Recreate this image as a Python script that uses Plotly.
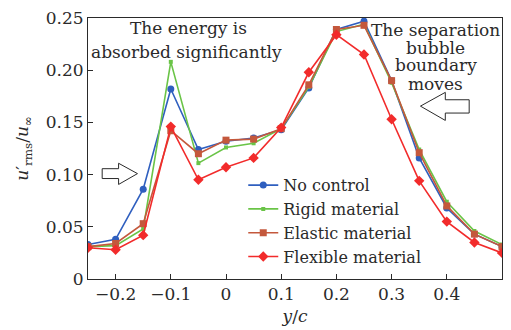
import plotly.graph_objects as go

# Spanwise position y/c
y_c = [-0.25, -0.2, -0.15, -0.1, -0.05, 0.0, 0.05, 0.1, 0.15, 0.2, 0.25, 0.3, 0.35, 0.4, 0.45, 0.5]

# Streamwise velocity fluctuation u'_rms / u_inf
no_control = [0.033, 0.038, 0.086, 0.182, 0.124, 0.132, 0.135, 0.143, 0.183, 0.239, 0.247, 0.190, 0.116, 0.068, 0.043, 0.031]
rigid      = [0.031, 0.032, 0.048, 0.208, 0.111, 0.126, 0.130, 0.144, 0.184, 0.237, 0.244, 0.188, 0.124, 0.074, 0.046, 0.033]
elastic    = [0.031, 0.034, 0.053, 0.142, 0.120, 0.133, 0.134, 0.144, 0.186, 0.239, 0.243, 0.190, 0.121, 0.070, 0.043, 0.031]
flexible   = [0.030, 0.028, 0.042, 0.146, 0.095, 0.107, 0.116, 0.145, 0.198, 0.234, 0.215, 0.153, 0.094, 0.055, 0.035, 0.025]

x_ticks = [-0.2, -0.1, 0, 0.1, 0.2, 0.3, 0.4]
x_tick_text = ["\u22120.2", "\u22120.1", "0", "0.1", "0.2", "0.3", "0.4"]
y_ticks = [0, 0.05, 0.10, 0.15, 0.20, 0.25]
y_tick_text = ["0", "0.05", "0.10", "0.15", "0.20", "0.25"]

# Text annotations: (x, y, text) per line
energy_lines = [(-0.068, 0.2406, "The energy is"), (-0.071, 0.2179, "absorbed significantly")]
bubble_lines = [(0.380, 0.2387, "The separation"), (0.380, 0.2217, "bubble"),
                (0.380, 0.2047, "boundary"), (0.380, 0.1868, "moves")]

FONT = "DejaVu Serif"
INK = "#2a2a2a"
FS = 17

series = [
    ("No control", no_control, "#2f5fbf", dict(symbol="circle", size=7)),
    ("Rigid material", rigid, "#6ac447", dict(symbol="square", size=4)),
    ("Elastic material", elastic, "#c4583c", dict(symbol="square", size=7)),
    ("Flexible material", flexible, "#f22b2b", dict(symbol="diamond", size=8)),
]

fig = go.Figure()
for name, vals, color, mk in series:
    fig.add_trace(go.Scatter(
        x=y_c, y=vals, name=name, mode="lines+markers",
        line=dict(color=color, width=1.6),
        marker=dict(color=color, **mk),
    ))

# Hollow block arrows, outlined in data coordinates
def px_to_data(px, py):
    return (px - 226) / 555.0, (280 - py) / 1060.0

def arrow_path(points):
    coords = [px_to_data(px, py) for px, py in points]
    return "M " + " L ".join(f"{x:.5f},{y:.5f}" for x, y in coords) + " Z"

right_arrow = [(101.5, 168), (118, 168), (118, 162.5), (137, 173), (118, 184), (118, 178), (101.5, 178)]
left_arrow = [(470.5, 98), (446.5, 98), (446.5, 90.5), (421.5, 104.5), (446.5, 119), (446.5, 111.5), (470.5, 111.5)]

for pts in (right_arrow, left_arrow):
    fig.add_shape(type="path", path=arrow_path(pts), xref="x", yref="y",
                  line=dict(color=INK, width=1), fillcolor="white")

for x, y, txt in energy_lines + bubble_lines:
    fig.add_annotation(x=x, y=y, xref="x", yref="y", text=txt, showarrow=False,
                       font=dict(family=FONT, size=FS, color=INK),
                       xanchor="center", yanchor="middle", borderpad=0)

fig.update_layout(
    width=511, height=330,
    margin=dict(l=88, r=8, t=15, b=50),
    paper_bgcolor="white", plot_bgcolor="white",
    font=dict(family=FONT, size=FS, color=INK),
    showlegend=True,
    legend=dict(x=0.375, y=0.4245, xanchor="left", yanchor="top",
                bgcolor="rgba(0,0,0,0)", font=dict(family=FONT, size=16, color=INK),
                tracegroupgap=0, itemwidth=30),
    xaxis=dict(range=[-0.25, 0.5], tickvals=x_ticks, ticktext=x_tick_text,
               ticks="inside", ticklen=5, tickcolor=INK,
               tickfont=dict(family=FONT, size=FS, color=INK),
               showline=True, linecolor=INK, linewidth=1, mirror=True,
               showgrid=False, zeroline=False,
               title=dict(text="<i>y</i>/<i>c</i>", font=dict(family=FONT, size=FS, color=INK), standoff=6)),
    yaxis=dict(range=[0, 0.25], tickvals=y_ticks, ticktext=y_tick_text,
               ticks="inside", ticklen=5, tickcolor=INK,
               tickfont=dict(family=FONT, size=FS, color=INK),
               showline=True, linecolor=INK, linewidth=1, mirror=True,
               showgrid=False, zeroline=False,
               title=dict(text="<i>u</i>\u2032<sub>rms</sub>/<i>u</i><sub>\u221e</sub>",
                          font=dict(family=FONT, size=FS, color=INK), standoff=12)),
)

fig.write_html("out.html")
